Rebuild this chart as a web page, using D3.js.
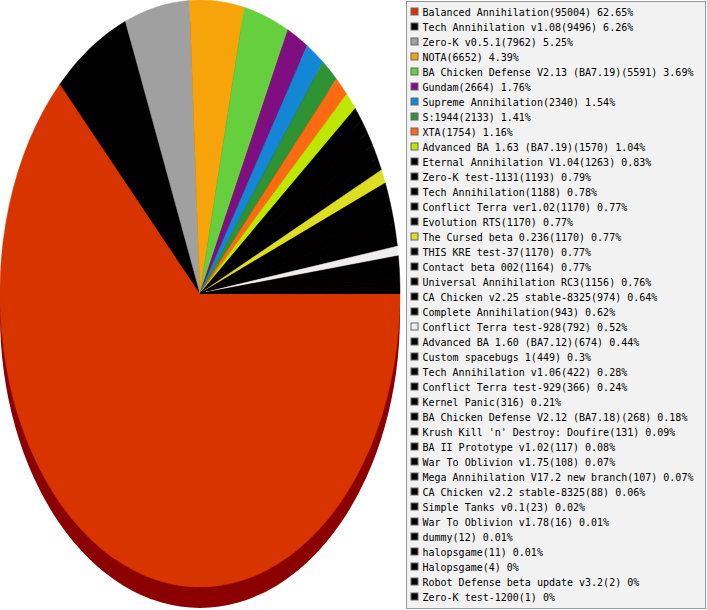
<!DOCTYPE html>
<html>
<head>
<meta charset="utf-8">
<script src="https://cdn.jsdelivr.net/npm/d3@7.9.0/dist/d3.min.js"></script>
<style>
  body { margin: 0; background: #fff; }
  svg { display: block; }
</style>
</head>
<body>
<div id="chart"></div>
<script>
// game names, player counts, shares (as printed in the legend) and slice colours
const names = [
    "Balanced Annihilation", "Tech Annihilation v1.08", "Zero-K v0.5.1", "NOTA",
    "BA Chicken Defense V2.13 (BA7.19)", "Gundam", "Supreme Annihilation", "S:1944",
    "XTA", "Advanced BA 1.63 (BA7.19)", "Eternal Annihilation V1.04", "Zero-K test-1131",
    "Tech Annihilation", "Conflict Terra ver1.02", "Evolution RTS", "The Cursed beta 0.236",
    "THIS KRE test-37", "Contact beta 002", "Universal Annihilation RC3",
    "CA Chicken v2.25 stable-8325", "Complete Annihilation", "Conflict Terra test-928",
    "Advanced BA 1.60 (BA7.12)", "Custom spacebugs 1", "Tech Annihilation v1.06",
    "Conflict Terra test-929", "Kernel Panic", "BA Chicken Defense V2.12 (BA7.18)",
    "Krush Kill 'n' Destroy: Doufire", "BA II Prototype v1.02", "War To Oblivion v1.75",
    "Mega Annihilation V17.2 new branch", "CA Chicken v2.2 stable-8325", "Simple Tanks v0.1",
    "War To Oblivion v1.78", "dummy", "halopsgame", "Halopsgame",
    "Robot Defense beta update v3.2", "Zero-K test-1200"
];
const counts = [
    95004, 9496, 7962, 6652, 5591, 2664, 2340, 2133, 1754, 1570, 1263, 1193, 1188,
    1170, 1170, 1170, 1170, 1164, 1156, 974, 943, 792, 674, 449, 422, 366, 316, 268,
    131, 117, 108, 107, 88, 23, 16, 12, 11, 4, 2, 1
];
const shares = [
    "62.65", "6.26", "5.25", "4.39", "3.69", "1.76", "1.54", "1.41", "1.16", "1.04",
    "0.83", "0.79", "0.78", "0.77", "0.77", "0.77", "0.77", "0.77", "0.76", "0.64",
    "0.62", "0.52", "0.44", "0.3", "0.28", "0.24", "0.21", "0.18", "0.09", "0.08",
    "0.07", "0.07", "0.06", "0.02", "0.01", "0.01", "0.01", "0", "0", "0"
];
const colors = [
    "#d83400", "#000000", "#a0a0a0", "#f7a30a", "#65cf3d", "#7f0f80", "#1386d6",
    "#2e9433", "#fe6a12", "#bde600", "#000000", "#000000", "#000000", "#000000",
    "#000000", "#dddd22", "#000000", "#000000", "#000000", "#000000", "#000000",
    "#eeeeee", "#000000", "#000000", "#000000", "#000000", "#000000", "#000000",
    "#000000", "#000000", "#000000", "#000000", "#000000", "#000000", "#000000",
    "#000000", "#000000", "#000000", "#000000", "#000000"
];

const data = names.map((n, i) => ({ name: n, count: counts[i], share: shares[i], color: colors[i] }));

const width = 707;
const height = 610;

// pie geometry: a circle squashed into an ellipse, plus a thin side wall below
const cx = 200, cy = 293.5;
const rx = 200, ry = 293.5;
const depth = 21;

const svg = d3.select("#chart")
    .append("svg")
    .attr("width", width)
    .attr("height", height);

// side wall (only the front is visible, which is the big red slice)
svg.append("ellipse")
    .attr("cx", cx)
    .attr("cy", cy + depth)
    .attr("rx", rx)
    .attr("ry", ry)
    .attr("fill", "#8b0000");

// slices start at 3 o'clock and run clockwise
const pie = d3.pie()
    .sort(null)
    .value(d => d.count)
    .startAngle(Math.PI / 2)
    .endAngle(Math.PI / 2 + 2 * Math.PI);

const arc = d3.arc()
    .innerRadius(0)
    .outerRadius(rx);

// thin stroke in the slice colour hides the seams between neighbours
svg.append("g")
    .attr("transform", `translate(${cx},${cy}) scale(1,${ry / rx})`)
    .selectAll("path")
    .data(pie(data))
    .join("path")
    .attr("d", arc)
    .attr("fill", d => d.data.color)
    .attr("stroke", d => d.data.color)
    .attr("stroke-width", 0.4)
    .attr("stroke-linejoin", "round");

// legend box
const legend = { x: 406, y: 1, w: 300, h: 608, rowH: 15, firstRow: 12 };

svg.append("rect")
    .attr("x", legend.x + 0.5)
    .attr("y", legend.y + 0.5)
    .attr("width", legend.w - 1)
    .attr("height", legend.h - 1)
    .attr("fill", "#f2f2f2")
    .attr("stroke", "#999");

const rowY = d3.scaleLinear()
    .domain([0, 1])
    .range([legend.firstRow, legend.firstRow + legend.rowH]);

const rows = svg.append("g")
    .selectAll("g")
    .data(data)
    .join("g")
    .attr("transform", (d, i) => `translate(${legend.x},${rowY(i)})`);

rows.append("rect")
    .attr("x", 5)
    .attr("y", -4)
    .attr("width", 7)
    .attr("height", 7)
    .attr("fill", d => d.color)
    .attr("stroke", "#666")
    .attr("stroke-width", 1);

rows.append("text")
    .attr("x", 16.5)
    .attr("y", 3.6)
    .attr("font-family", "'DejaVu Sans Mono', monospace")
    .attr("font-size", 10)
    .attr("fill", "#000")
    .text(d => `${d.name}(${d.count}) ${d.share}%`);
</script>
</body>
</html>
